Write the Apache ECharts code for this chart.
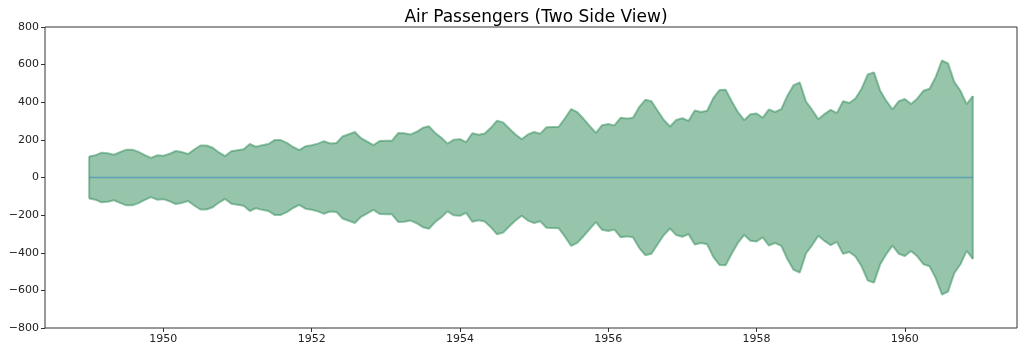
<!DOCTYPE html>
<html lang="en">
  <head>
    <meta charset="UTF-8" />
    <title>Air Passengers</title>
    <script src="https://cdn.jsdelivr.net/npm/echarts@6/dist/echarts.min.js"></script>
    <style>
      html, body { margin: 0; padding: 0; background: #fff; }
      #chart { width: 1024px; height: 354px; }
    </style>
  </head>
  <body>
    <div id="chart"></div>
    <script>
      // monthly totals, 1949-01 .. 1960-12
      const startYear = 1949
      const passengers = [
        112, 118, 132, 129, 121, 135, 148, 148, 136, 119, 104, 118,
        115, 126, 141, 135, 125, 149, 170, 170, 158, 133, 114, 140,
        145, 150, 178, 163, 172, 178, 199, 199, 184, 162, 146, 166,
        171, 180, 193, 181, 183, 218, 230, 242, 209, 191, 172, 194,
        196, 196, 236, 235, 229, 243, 264, 272, 237, 211, 180, 201,
        204, 188, 235, 227, 234, 264, 302, 293, 259, 229, 203, 229,
        242, 233, 267, 269, 270, 315, 364, 347, 312, 274, 237, 278,
        284, 277, 317, 313, 318, 374, 413, 405, 355, 306, 271, 306,
        315, 301, 356, 348, 355, 422, 465, 467, 404, 347, 305, 336,
        340, 318, 362, 348, 363, 435, 491, 505, 404, 359, 310, 337,
        360, 342, 406, 396, 420, 472, 548, 559, 463, 407, 362, 405,
        417, 391, 419, 461, 472, 535, 622, 606, 508, 461, 390, 432
      ]
      const xTicks = [1950, 1952, 1954, 1956, 1958, 1960]

      const xs = passengers.map((v, i) => startYear + i / 12)
      const upper = passengers.map((v, i) => [xs[i], v])
      const lower = passengers.map((v, i) => [xs[i], -v])
      const n = passengers.length
      // vertical edges of the filled shape
      const edges = [
        [xs[0], -passengers[0]], [xs[0], passengers[0]], null,
        [xs[n - 1], -passengers[n - 1]], [xs[n - 1], passengers[n - 1]]
      ]
      const zeroLine = [[xs[0], 0], [xs[n - 1], 0]]

      const span = xs[n - 1] - xs[0]
      const green = 'rgba(46,139,87,0.5)'
      const minus = v => String(v).replace('-', '\u2212')

      const chart = echarts.init(document.getElementById('chart'))
      chart.setOption({
        animation: false,
        textStyle: { fontFamily: 'DejaVu Sans' },
        title: {
          text: 'Air Passengers (Two Side View)',
          left: 531, top: 4, textAlign: 'center',
          textStyle: { fontSize: 17, fontWeight: 'normal', color: '#000' }
        },
        grid: {
          left: 45, right: 7, top: 27, bottom: 26,
          show: true, borderColor: '#333', borderWidth: 1
        },
        xAxis: {
          type: 'value',
          min: xs[0] - span * 0.05,
          max: xs[n - 1] + span * 0.05,
          axisLine: { show: false, onZero: false },
          splitLine: { show: false },
          axisTick: { show: true, length: 4, lineStyle: { color: '#333' }, customValues: xTicks },
          axisLabel: { fontSize: 11, color: '#222', margin: 6, customValues: xTicks, formatter: v => String(v) }
        },
        yAxis: {
          type: 'value',
          min: -800, max: 800, interval: 200,
          axisLine: { show: false, onZero: false },
          splitLine: { show: false },
          axisTick: { show: true, length: 4, lineStyle: { color: '#333' } },
          axisLabel: { fontSize: 11, color: '#222', margin: 6, formatter: minus }
        },
        series: [
          {
            type: 'line', data: upper, showSymbol: false,
            lineStyle: { color: green, width: 2 },
            areaStyle: { color: green, opacity: 1, origin: 0 }
          },
          {
            type: 'line', data: lower, showSymbol: false,
            lineStyle: { color: green, width: 2 },
            areaStyle: { color: green, opacity: 1, origin: 0 }
          },
          {
            type: 'line', data: edges, showSymbol: false, connectNulls: false,
            lineStyle: { color: green, width: 2 }
          },
          {
            type: 'line', data: zeroLine, showSymbol: false, z: 5,
            lineStyle: { color: 'rgba(31,119,180,0.5)', width: 1.5 }
          }
        ]
      })
    </script>
  </body>
</html>
